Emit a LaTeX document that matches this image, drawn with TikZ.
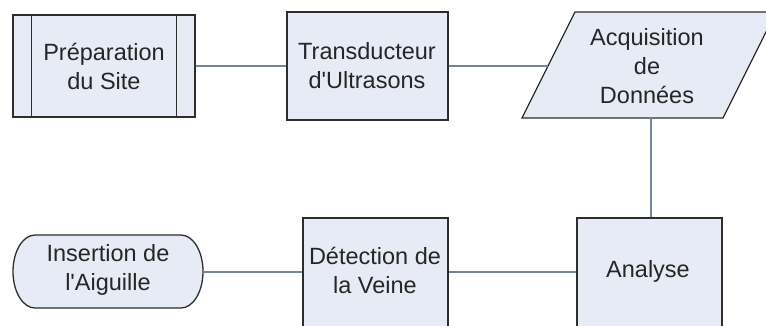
\documentclass[tikz,border=0pt]{standalone}
\usepackage{fontspec}
\setmainfont{Liberation Sans}
\definecolor{boxfill}{RGB}{231,235,246}
\definecolor{edgecol}{RGB}{45,45,45}
\definecolor{linkcol}{RGB}{115,135,155}
\begin{document}
\begin{tikzpicture}[x=1pt,y=1pt,
  box/.style={draw=edgecol, fill=boxfill, line width=1.3pt, inner sep=0pt, rectangle},
  shapeline/.style={draw=edgecol, fill=boxfill, line width=1.3pt},
  lbl/.style={font=\fontsize{23.5}{29}\selectfont, align=center, inner sep=0pt, text=black!85},
  link/.style={draw=linkcol, line width=1.4pt}]
\useasboundingbox (0,0) rectangle (766,-325);
\clip (0,0) rectangle (766,-325);
\fill[white] (0,0) rectangle (766,-325);

% Préparation du Site (predefined process)
\node[box, minimum width=182, minimum height=102] (prep) at (104,-66) {};
\draw[edgecol, line width=1.3pt] ([xshift=19]prep.north west) -- ([xshift=19]prep.south west);
\draw[edgecol, line width=1.3pt] ([xshift=-19]prep.north east) -- ([xshift=-19]prep.south east);
\node[lbl] (preptxt) at (104,-66) {Préparation\\du Site};

% Transducteur
\node[box, minimum width=161, minimum height=108] (trans) at (367.5,-66) {};
\node[lbl] (transtxt) at (367,-66) {Transducteur\\d\textquotesingle Ultrasons};

% Acquisition (parallelogram)
\draw[shapeline] (522,-118) -- (723,-118) -- (776,-12) -- (575,-12) -- cycle;
\coordinate (acqW) at (548,-66);
\coordinate (acqS) at (651,-118);
\node[lbl] (acq) at (647,-66) {Acquisition\\de\\Données};

% Analyse
\node[box, minimum width=145, minimum height=127] (anbox) at (649.5,-281.5) {};
\node[lbl] (an) at (648,-271) {Analyse};

% Détection
\node[box, minimum width=145, minimum height=127] (detbox) at (375.5,-281.5) {};
\node[lbl] (det) at (375,-270) {Détection de\\la Veine};

% Insertion (terminator)
\draw[shapeline] (35,-235) -- (181,-235) arc[start angle=90, end angle=-90, x radius=22, y radius=36.5]
  -- (35,-308) arc[start angle=270, end angle=90, x radius=22, y radius=36.5] -- cycle;
\node[lbl] (ins) at (108,-270) {Insertion de\\l\textquotesingle Aiguille};
\coordinate (insE) at (203,-272);

% connectors
\draw[link] (prep.east) -- (trans.west);
\draw[link] (trans.east) -- (acqW);
\draw[link] (acqS) -- (acqS |- anbox.north);
\draw[link] (insE) -- (insE -| detbox.west);
\draw[link] (insE -| detbox.east) -- (insE -| anbox.west);
\end{tikzpicture}
\end{document}
